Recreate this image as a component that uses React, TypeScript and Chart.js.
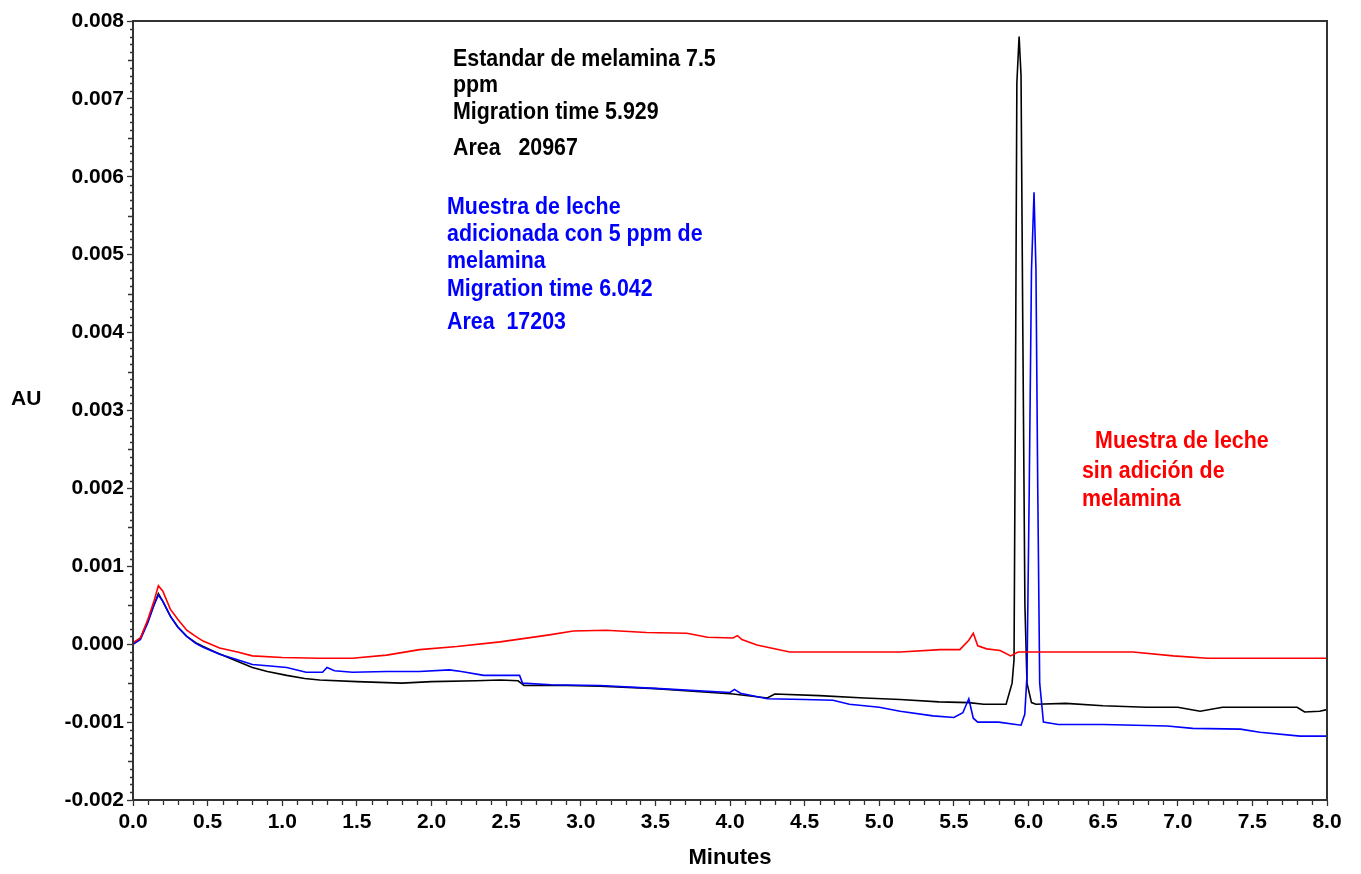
import React, { useEffect, useRef } from "react";
import { Chart, registerables } from "chart.js";

Chart.register(...registerables);

// Minutes (x) and absorbance AU (y)
const stdX = [0, 0.05, 0.1, 0.14, 0.17, 0.2, 0.25, 0.3, 0.36, 0.42, 0.47, 0.55, 0.65, 0.8, 0.9, 1.03, 1.15, 1.25, 1.5, 1.8, 2.0, 2.3, 2.46, 2.58, 2.62, 2.9, 3.13, 3.5, 3.8, 4.02, 4.25, 4.3, 4.6, 4.9, 5.14, 5.4, 5.6, 5.7, 5.85, 5.89, 5.903, 5.912, 5.922, 5.937, 5.95, 5.962, 5.976, 5.99, 6.02, 6.05, 6.25, 6.5, 6.79, 7.0, 7.15, 7.3, 7.6, 7.8, 7.85, 7.95, 8.0];
const stdY = [0, 0.00008, 0.0003, 0.0005, 0.00065, 0.00055, 0.00036, 0.00022, 0.0001, 0.00002, -0.00003, -0.0001, -0.00018, -0.0003, -0.00035, -0.0004, -0.00044, -0.00046, -0.00048, -0.0005, -0.00048, -0.00047, -0.00046, -0.00047, -0.00053, -0.00053, -0.00054, -0.00057, -0.00061, -0.00064, -0.00069, -0.00064, -0.00066, -0.00069, -0.00071, -0.00074, -0.00075, -0.00077, -0.00077, -0.0005, -0.0002, 0.003, 0.0072, 0.0078, 0.0073, 0.004, 0.0005, -0.0005, -0.00075, -0.00077, -0.00076, -0.00079, -0.00081, -0.00081, -0.00086, -0.00081, -0.00081, -0.00081, -0.00087, -0.00086, -0.00084];

const spikedX = [0, 0.05, 0.1, 0.14, 0.17, 0.2, 0.25, 0.3, 0.36, 0.42, 0.47, 0.58, 0.7, 0.8, 0.92, 1.03, 1.16, 1.27, 1.3, 1.35, 1.47, 1.7, 1.92, 2.12, 2.2, 2.35, 2.59, 2.61, 2.8, 3.13, 3.53, 4.0, 4.03, 4.07, 4.25, 4.5, 4.69, 4.8, 5.0, 5.14, 5.36, 5.5, 5.56, 5.6, 5.63, 5.66, 5.8, 5.95, 5.975, 5.99, 6.005, 6.02, 6.037, 6.05, 6.062, 6.075, 6.1, 6.2, 6.5, 6.93, 7.1, 7.42, 7.55, 7.82, 8.0];
const spikedY = [0, 0.00006, 0.00028, 0.0005, 0.00063, 0.00055, 0.00036, 0.00022, 0.0001, 0.00001, -0.00004, -0.00013, -0.0002, -0.00026, -0.00028, -0.0003, -0.00036, -0.00036, -0.0003, -0.00034, -0.00036, -0.00035, -0.00035, -0.00033, -0.00035, -0.0004, -0.0004, -0.0005, -0.00052, -0.00053, -0.00057, -0.00062, -0.00058, -0.00063, -0.0007, -0.00071, -0.00072, -0.00077, -0.00081, -0.00086, -0.00092, -0.00094, -0.00088, -0.0007, -0.00095, -0.001, -0.001, -0.00104, -0.0009, -0.0004, 0.002, 0.0048, 0.0058, 0.0048, 0.002, -0.0005, -0.001, -0.00103, -0.00103, -0.00105, -0.00108, -0.00109, -0.00113, -0.00118, -0.00118];

const blankX = [0, 0.05, 0.1, 0.14, 0.17, 0.2, 0.25, 0.3, 0.36, 0.42, 0.47, 0.58, 0.7, 0.8, 1.0, 1.25, 1.47, 1.7, 1.92, 2.17, 2.46, 2.79, 2.95, 3.17, 3.44, 3.71, 3.85, 4.02, 4.05, 4.08, 4.18, 4.4, 4.8, 5.14, 5.41, 5.54, 5.6, 5.63, 5.66, 5.72, 5.81, 5.88, 5.93, 6.0, 6.3, 6.7, 6.97, 7.2, 7.6, 8.0];
const blankY = [0.00002, 0.00008, 0.00032, 0.00055, 0.00075, 0.00068, 0.00045, 0.00032, 0.00018, 0.0001, 0.00004, -0.00005, -0.0001, -0.00015, -0.00017, -0.00018, -0.00018, -0.00014, -0.00007, -0.00003, 0.00003, 0.00012, 0.00017, 0.00018, 0.00015, 0.00014, 0.00009, 0.00008, 0.00011, 0.00006, -0.00001, -0.0001, -0.0001, -0.0001, -0.00007, -0.00007, 0.00005, 0.00014, -0.00002, -0.00006, -0.00008, -0.00015, -0.0001, -0.0001, -0.0001, -0.0001, -0.00015, -0.00018, -0.00018, -0.00018];

const xTickStep = 0.5;
const yTickStep = 0.001;

// annotation texts [text, minutes, AU]
const stdNotes: [string, number, number][] = [
  ["Estandar de melamina 7.5", 2.144, 0.00751],
  ["ppm", 2.144, 0.00717],
  ["Migration time 5.929", 2.144, 0.00682],
  ["Area   20967", 2.144, 0.00636],
];
const spikedNotes: [string, number, number][] = [
  ["Muestra de leche", 2.104, 0.0056],
  ["adicionada con 5 ppm de", 2.104, 0.00526],
  ["melamina", 2.104, 0.00491],
  ["Migration time 6.042", 2.104, 0.00455],
  ["Area  17203", 2.104, 0.00413],
];
const blankNotes: [string, number, number][] = [
  ["Muestra de leche", 6.446, 0.0026],
  ["sin adición de", 6.358, 0.00222],
  ["melamina", 6.358, 0.00185],
];

const toPts = (xs: number[], ys: number[]) => xs.map((x, i) => ({ x, y: ys[i] }));

const FONT = "'Liberation Sans', Arial, sans-serif";

const decorPlugin = {
  id: "decor",
  afterDraw(chart: any) {
    const { ctx, chartArea: a, scales } = chart;
    const xs = scales.x;
    const ys = scales.y;
    ctx.save();
    // frame
    ctx.strokeStyle = "#333";
    ctx.lineWidth = 2;
    ctx.strokeRect(a.left, a.top, a.right - a.left, a.bottom - a.top);
    // minor ticks
    ctx.lineWidth = 1.3;
    ctx.beginPath();
    for (let i = 0; i <= 80; i++) {
      if (i % 5 === 0) continue;
      const px = Math.round(xs.getPixelForValue(i / 10)) + 0.5;
      ctx.moveTo(px, a.bottom);
      ctx.lineTo(px, a.bottom + 5);
    }
    for (let i = -20; i <= 80; i++) {
      if (i % 10 === 0) continue;
      const py = Math.round(ys.getPixelForValue(i / 10000)) + 0.5;
      const len = i % 5 === 0 ? 5 : 3;
      ctx.moveTo(a.left, py);
      ctx.lineTo(a.left - len, py);
    }
    ctx.stroke();
    // axis titles
    ctx.fillStyle = "#000";
    ctx.font = `bold 21px ${FONT}`;
    ctx.textBaseline = "middle";
    ctx.textAlign = "left";
    ctx.fillText("AU", 11, ys.getPixelForValue(0.00315));
    ctx.textAlign = "center";
    ctx.font = `bold 22px ${FONT}`;
    ctx.fillText("Minutes", (a.left + a.right) / 2, 858);
    // annotations (slightly condensed, tall bold face)
    ctx.textAlign = "left";
    ctx.font = `bold 23px ${FONT}`;
    const drawNotes = (notes: [string, number, number][], color: string) => {
      ctx.fillStyle = color;
      notes.forEach(([t, x, y]) => {
        const px = xs.getPixelForValue(x);
        const py = ys.getPixelForValue(y);
        ctx.save();
        ctx.translate(px, py);
        ctx.scale(0.93, 1);
        ctx.fillText(t, 0, 0);
        ctx.restore();
      });
    };
    drawNotes(stdNotes, "#000");
    drawNotes(spikedNotes, "#0000ff");
    drawNotes(blankNotes, "#ff0000");
    ctx.restore();
  },
};

export default function App() {
  const ref = useRef<HTMLCanvasElement | null>(null);
  useEffect(() => {
    if (!ref.current) return;
    const chart = new Chart(ref.current, {
      type: "line",
      data: {
        datasets: [
          { label: "blank", data: toPts(blankX, blankY), borderColor: "#ff0000", borderWidth: 1.6, pointRadius: 0, order: 1 },
          { label: "spiked", data: toPts(spikedX, spikedY), borderColor: "#0000ff", borderWidth: 1.6, pointRadius: 0, order: 2 },
          { label: "standard", data: toPts(stdX, stdY), borderColor: "#000000", borderWidth: 1.6, pointRadius: 0, order: 3 },
        ],
      },
      options: {
        animation: false,
        responsive: false,
        parsing: false as any,
        layout: { padding: { top: 21, right: 34, left: 0, bottom: 0 } },
        plugins: { legend: { display: false }, tooltip: { enabled: false } },
        elements: { line: { tension: 0 } },
        scales: {
          x: {
            type: "linear",
            min: 0,
            max: 8,
            afterFit: (s: any) => { s.height = 74; },
            grid: { drawOnChartArea: false, drawTicks: true, tickLength: 6, color: "#333", tickWidth: 1.3 },
            border: { display: true, color: "#333", width: 2 },
            ticks: {
              stepSize: xTickStep,
              autoSkip: false,
              maxRotation: 0,
              padding: 4,
              color: "#000",
              font: { family: FONT, size: 21, weight: "bold" },
              callback: (v: any) => Number(v).toFixed(1),
            },
          },
          y: {
            type: "linear",
            min: -0.002,
            max: 0.008,
            afterFit: (s: any) => { s.width = 133; },
            grid: { drawOnChartArea: false, drawTicks: true, tickLength: 6, color: "#333", tickWidth: 1.3 },
            border: { display: true, color: "#333", width: 2 },
            ticks: {
              stepSize: yTickStep,
              autoSkip: false,
              padding: 3,
              color: "#000",
              font: { family: FONT, size: 21, weight: "bold" },
              callback: (v: any) => {
                const n = Number(v);
                return (Math.abs(n) < 1e-9 ? 0 : n).toFixed(3);
              },
            },
          },
        },
      },
      plugins: [decorPlugin],
    });
    return () => chart.destroy();
  }, []);
  return (
    <div style={{ position: "absolute", left: 0, top: 0, width: 1361, height: 874, background: "#fff" }}>
      <canvas ref={ref} width={1361} height={874} style={{ display: "block" }} />
    </div>
  );
}
